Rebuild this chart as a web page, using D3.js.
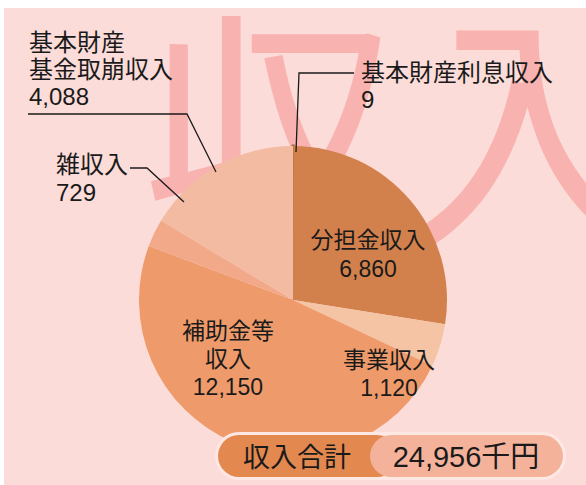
<!DOCTYPE html>
<html>
<head>
<meta charset="utf-8">
<script src="https://cdn.jsdelivr.net/npm/d3@7"></script>
<style>
  body { margin: 0; background: #fff; }
  text { font-family: "Liberation Sans", "Noto Sans CJK JP", sans-serif; fill: #1a1a1a; }
</style>
</head>
<body>
<svg width="586" height="485"></svg>
<script>
var svg = d3.select("svg");

var categories = ["基本財産利息収入", "分担金収入", "事業収入", "補助金等収入", "雑収入", "基本財産基金取崩収入"];
var values = [9, 6860, 1120, 12150, 729, 4088];
var colors = ["#a86b3c", "#d3814c", "#f4c4a4", "#ef9a6a", "#f1a98a", "#f3bba2"];
var totalLabel = "収入合計";
var totalValue = "24,956千円";

var cx = 293, cy = 300, radius = 154;

// background
svg.append("rect")
    .attr("x", 4).attr("y", 8)
    .attr("width", 582).attr("height", 477)
    .attr("fill", "#fcdcd8");

// big watermark
svg.append("text")
    .attr("x", 142).attr("y", 230)
    .style("font-family", "'Noto Sans CJK JP'")
    .style("font-size", "256px")
    .style("font-weight", 400)
    .style("fill", "#f8b3b0")
    .text("収入");

var fmt = d3.format(",");
var data = categories.map(function(c, i) { return { name: c, value: values[i] }; });

var pie = d3.pie().sort(null).value(function(d) { return d.value; });
var arc = d3.arc().innerRadius(0).outerRadius(radius);

var gPie = svg.append("g")
    .attr("transform", "translate(" + cx + "," + cy + ")");

gPie.selectAll("path")
    .data(pie(data))
    .enter()
    .append("path")
    .attr("d", arc)
    .attr("fill", function(d, i) { return colors[i]; })
    .attr("stroke", function(d, i) { return i == 0 ? colors[0] : "none"; })
    .attr("stroke-width", 3);

// leader lines
var lines = [
    [[28, 114], [187, 114], [216, 172]],
    [[354, 73], [299, 73], [296, 152]],
    [[130, 168], [147, 168], [184, 202]]
];
svg.selectAll("path.leader")
    .data(lines)
    .enter()
    .append("path")
    .attr("class", "leader")
    .attr("d", d3.line())
    .attr("fill", "none")
    .attr("stroke", "#1a1a1a")
    .attr("stroke-width", 1.3);

// labels, one tspan per line
function label(lines, x, y, anchor, size, lh) {
    var t = svg.append("text")
        .attr("x", x).attr("y", y)
        .attr("text-anchor", anchor)
        .style("font-size", size + "px");
    lines.forEach(function(s, i) {
        t.append("tspan").attr("x", x).attr("y", y + i * lh).text(s);
    });
}

label(["基本財産", "基金取崩収入", fmt(values[5])], 29, 51, "start", 24, 27);
label(["基本財産利息収入", fmt(values[0])], 361, 81, "start", 24, 27);
label(["雑収入", fmt(values[4])], 56, 173, "start", 24, 28);

label(["分担金収入", fmt(values[1])], 368, 248, "middle", 23, 29);
label(["補助金等", "収入", fmt(values[3])], 228, 339, "middle", 23, 28);
label(["事業収入", fmt(values[2])], 389, 368, "middle", 23, 28);

// total badge
var badge = svg.append("g");
badge.append("rect")
    .attr("x", 215).attr("y", 432)
    .attr("width", 351).attr("height", 48)
    .attr("rx", 24)
    .attr("fill", "#fde8e4");
badge.append("rect")
    .attr("x", 218).attr("y", 435)
    .attr("width", 180).attr("height", 42)
    .attr("rx", 21)
    .attr("fill", "#e3884f");
badge.append("rect")
    .attr("x", 370).attr("y", 435)
    .attr("width", 193).attr("height", 42)
    .attr("rx", 21)
    .attr("fill", "#f4b29a");
badge.append("text")
    .attr("x", 297).attr("y", 467)
    .attr("text-anchor", "middle")
    .style("font-size", "27px")
    .text(totalLabel);
badge.append("text")
    .attr("x", 466).attr("y", 467)
    .attr("text-anchor", "middle")
    .style("font-size", "29px")
    .text(totalValue);
</script>
</body>
</html>
